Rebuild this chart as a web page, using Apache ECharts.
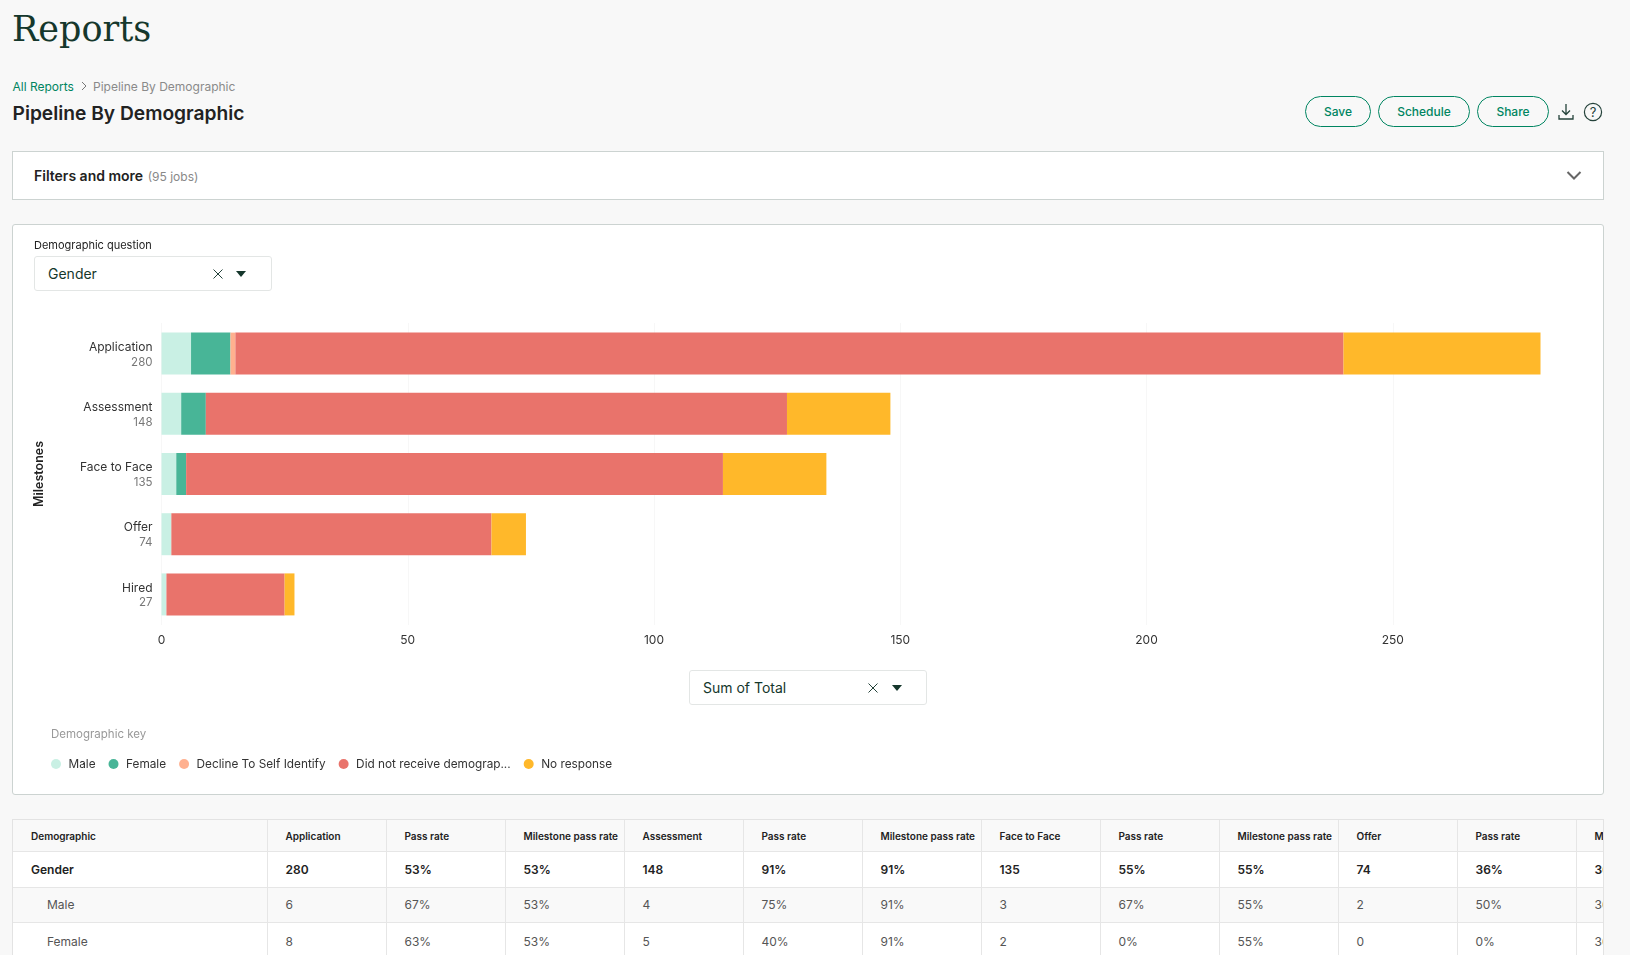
<!DOCTYPE html>
<html>
<head>
<meta charset="utf-8">
<title>Reports</title>
<script src="https://cdn.jsdelivr.net/npm/echarts@6/dist/echarts.min.js"></script>
<style>
  html, body { margin: 0; height: 100%; background: #f8f8f8; overflow: hidden; }
  body { font-family: Inter, "Noto Sans", sans-serif; color: #222; width: 1630px; height: 955px; position: relative; }
  .abs { position: absolute; white-space: nowrap; }
  .card { position: absolute; left: 12px; width: 1592px; box-sizing: border-box; background: #fff; border: 1px solid #ccd3d1; }
  .btn { position: absolute; top: 96px; height: 31px; box-sizing: border-box; border: 1px solid #008561; border-radius: 16px;
         color: #008561; font-size: 12px; font-weight: 500; text-align: center; line-height: 29px; }
  .select { position: absolute; box-sizing: border-box; background: #fff; border: 1px solid #e3e6e5; border-radius: 3px; height: 35px; z-index: 2; }
  .select span { position: absolute; left: 13px; top: 8px; font-size: 14px; color: #15372c; }
  .select svg { position: absolute; top: 11px; }
  #main { position: absolute; left: 0; top: 0; width: 1630px; height: 800px; z-index: 1; }
  #tableWrap { position: absolute; left: 12px; top: 819px; width: 1592px; height: 136px; overflow: hidden; border-left: 1px solid #e3e3e3; border-top: 1px solid #e3e3e3; border-right: 1px solid #e3e3e3; box-sizing: border-box; }
  table { border-collapse: collapse; table-layout: fixed; width: 1682px; }
  td { height: 35px; padding: 0 0 0 18px; box-sizing: border-box; border: 1px solid #e6e6e6; border-left: 0; border-top: 0; font-size: 12px; color: #555; white-space: nowrap; overflow: hidden; }
  tr.head td { height: 31px; padding-top: 2px; background: #f9f9f9; font-size: 10px; font-weight: 600; color: #222; }
  tr.total td { background: #fff; font-weight: 600; color: #222; height: 36px; }
  tr.shade td { background: #f9f9f9; height: 35px; }
  tr.plain td { background: #fff; height: 36px; padding-top: 2px; }
  td.sub { padding-left: 34px; }
</style>
</head>
<body>

<div class="abs" style="left:12px;top:9px;font-family:'DejaVu Serif',serif;font-size:35px;color:#15372c;">Reports</div>
<div class="abs" style="left:12.5px;top:79px;font-size:12px;color:#008561;">All Reports</div>
<svg class="abs" style="left:80px;top:80px" width="8" height="12"><path d="M2 2l4 4-4 4" fill="none" stroke="#777" stroke-width="1"/></svg>
<div class="abs" style="left:93px;top:79px;font-size:12px;color:#8a8a8a;">Pipeline By Demographic</div>
<div class="abs" style="left:12.5px;top:101px;font-size:19.200px;font-weight:600;color:#222;">Pipeline By Demographic</div>

<div class="btn" style="left:1305px;width:66px;">Save</div>
<div class="btn" style="left:1378px;width:92px;">Schedule</div>
<div class="btn" style="left:1477px;width:72px;">Share</div>
<svg class="abs" style="left:1558px;top:103px" width="16" height="18"><path d="M8 1v10M4 7.500l4 4 4-4M1 12v4h14v-4" fill="none" stroke="#24423a" stroke-width="1.3"/></svg>
<svg class="abs" style="left:1583px;top:102px" width="20" height="20"><circle cx="10" cy="10" r="8.600" fill="none" stroke="#24423a" stroke-width="1.2"/><text x="10" y="14.500" font-size="13" text-anchor="middle" fill="#24423a">?</text></svg>

<div class="card" style="top:151px;height:49px;">
  <div class="abs" style="left:21px;top:15px;font-size:14px;font-weight:600;">Filters and more <span style="font-size:12px;font-weight:400;color:#888;margin-left:1px;">(95 jobs)</span></div>
  <svg class="abs" style="left:1552.5px;top:18px" width="16" height="11"><path d="M1.500 2l6.500 6.500L14.500 2" fill="none" stroke="#666" stroke-width="2"/></svg>
</div>

<div class="card" style="top:224px;height:571px;border-radius:3px;"></div>

<div class="abs" style="left:34px;top:238px;font-size:11px;color:#222;z-index:2;">Demographic question</div>
<div class="select" style="left:34px;top:256px;width:238px;">
  <span>Gender</span>
  <svg style="left:177px" width="12" height="12"><path d="M1.500 1.500l9 9M10.500 1.500l-9 9" stroke="#24423a" stroke-width="1"/></svg>
  <svg style="left:200px" width="12" height="12"><path d="M1 3h10L6 9z" fill="#15372c"/></svg>
</div>
<div class="select" style="left:689px;top:670px;width:238px;">
  <span>Sum of Total</span>
  <svg style="left:177px" width="12" height="12"><path d="M1.500 1.500l9 9M10.500 1.500l-9 9" stroke="#24423a" stroke-width="1"/></svg>
  <svg style="left:201px" width="12" height="12"><path d="M1 3h10L6 9z" fill="#15372c"/></svg>
</div>
<div class="abs" style="left:51px;top:727px;font-size:11.500px;color:#999;z-index:2;">Demographic key</div>

<div id="main"></div>
<div id="tableWrap"><table id="tbl"></table></div>

<script>
  // chart data
  var milestones = ['Application', 'Assessment', 'Face to Face', 'Offer', 'Hired'];
  var milestoneTotals = [280, 148, 135, 74, 27];
  var male = [6, 4, 3, 2, 1];
  var female = [8, 5, 2, 0, 0];
  var decline = [1, 0, 0, 0, 0];
  var noDemographic = [225, 118, 109, 65, 24];
  var noResponse = [40, 21, 21, 7, 2];
  var seriesNames = ['Male', 'Female', 'Decline To Self Identify', 'Did not receive demograp...', 'No response'];
  var seriesColors = ['#c9f0e4', '#48b597', '#ffb08f', '#e9736b', '#ffb82a'];

  // table under the chart
  var tableHeader = ['Demographic', 'Application', 'Pass rate', 'Milestone pass rate', 'Assessment', 'Pass rate', 'Milestone pass rate', 'Face to Face', 'Pass rate', 'Milestone pass rate', 'Offer', 'Pass rate', 'Milestone pass rate'];
  var genderRow = ['Gender', '280', '53%', '53%', '148', '91%', '91%', '135', '55%', '55%', '74', '36%', '36%'];
  var maleRow = ['Male', '6', '67%', '53%', '4', '75%', '91%', '3', '67%', '55%', '2', '50%', '36%'];
  var femaleRow = ['Female', '8', '63%', '53%', '5', '40%', '91%', '2', '0%', '55%', '0', '0%', '36%'];

  function makeRow(cells, cls) {
    var html = '<tr class="' + cls + '">';
    for (var i = 0; i < cells.length; i++) {
      var sub = (i == 0 && (cls == 'shade' || cls == 'plain')) ? ' class="sub"' : '';
      html += '<td' + sub + '>' + cells[i] + '</td>';
    }
    return html + '</tr>';
  }
  var cols = '<colgroup><col style="width:254px">';
  for (var c = 0; c < 12; c++) cols += '<col style="width:119px">';
  cols += '</colgroup>';
  document.getElementById('tbl').innerHTML = cols + makeRow(tableHeader, 'head') + makeRow(genderRow, 'total') + makeRow(maleRow, 'shade') + makeRow(femaleRow, 'plain');

  var seriesData = [male, female, decline, noDemographic, noResponse];
  var series = [];
  for (var n = 0; n < seriesNames.length; n++) {
    series.push({
      name: seriesNames[n],
      type: 'bar',
      stack: 'total',
      barWidth: 42,
      itemStyle: { color: seriesColors[n] },
      data: seriesData[n]
    });
  }

  var myChart = echarts.init(document.getElementById('main'));
  myChart.setOption({
    animation: false,
    textStyle: { fontFamily: 'Inter, "Noto Sans", sans-serif' },
    legend: {
      left: 51,
      top: 758,
      padding: 0,
      icon: 'circle',
      itemWidth: 10,
      itemHeight: 10,
      itemGap: 13,
      selectedMode: false,
      textStyle: { fontSize: 11.8, color: '#333', padding: [0, 0, 0, 2.5] },
      data: seriesNames
    },
    grid: { left: 161.5, top: 323.5, width: 1379, height: 301 },
    xAxis: {
      type: 'value',
      min: 0,
      max: 280,
      interval: 50,
      axisLine: { show: false },
      axisTick: { show: false },
      splitLine: { showMaxLine: false, lineStyle: { color: '#efefef', type: 'dotted' } },
      axisLabel: {
        margin: 10,
        fontSize: 12,
        color: '#333',
        showMaxLabel: false
      }
    },
    yAxis: {
      type: 'category',
      inverse: true,
      data: milestones,
      name: 'Milestones',
      nameLocation: 'middle',
      nameGap: 116,
      nameTextStyle: { fontSize: 12.5, fontWeight: 600, color: '#222' },
      axisLine: { show: false },
      axisTick: { show: false },
      axisLabel: {
        margin: 9,
        align: 'right',
        padding: [2, 0, 0, 0],
        formatter: function (value, idx) {
          return '{name|' + value + '}\n{total|' + milestoneTotals[idx] + '}';
        },
        rich: {
          name: { fontSize: 12, color: '#333', align: 'right', lineHeight: 15 },
          total: { fontSize: 11.5, color: '#777', align: 'right', lineHeight: 15 }
        }
      }
    },
    series: series
  });
</script>
</body>
</html>
